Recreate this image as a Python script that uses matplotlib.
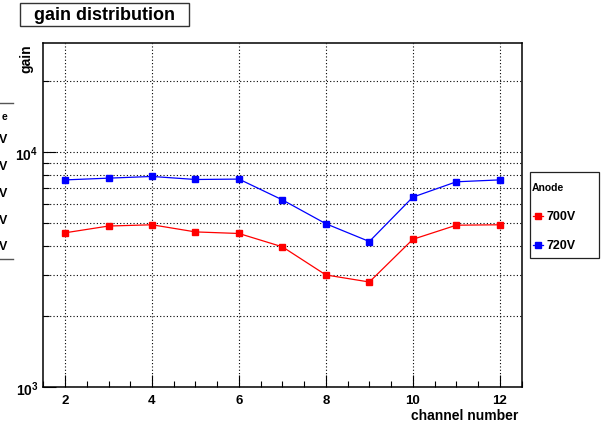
import matplotlib
matplotlib.use("Agg")
import math
import matplotlib.pyplot as plt
from matplotlib.patches import Rectangle
from matplotlib.lines import Line2D
from matplotlib.ticker import LogLocator, MultipleLocator, FuncFormatter, NullFormatter

plt.rcParams['font.family'] = ['Liberation Sans', 'DejaVu Sans']
plt.rcParams['font.weight'] = 'bold'
plt.rcParams['mathtext.fontset'] = 'custom'
plt.rcParams['mathtext.rm'] = 'Liberation Sans:bold'
plt.rcParams['mathtext.bf'] = 'Liberation Sans:bold'
plt.rcParams['mathtext.it'] = 'Liberation Sans:bold'

# ---- data ----
channels = [2, 3, 4, 5, 6, 7, 8, 9, 10, 11, 12]
gain_700V = [4530, 4840, 4900, 4570, 4500, 3950, 3000, 2800, 4250, 4880, 4900]
gain_720V = [7600, 7730, 7860, 7630, 7660, 6250, 4950, 4160, 6420, 7460, 7600]
series_labels = ["700V", "720V"]
series_colors = ["#ff0000", "#0000ff"]
legend_header = "Anode"
# visible (clipped) remainder of a second legend at the left edge
hidden_legend_chars = ["e", "V", "V", "V", "V", "V"]
title_text = "gain distribution"
xlabel_text = "channel number"
ylabel_text = "gain"

W, H = 604, 427
fig = plt.figure(figsize=(W / 100, H / 100), dpi=100)

def fx(px):
    return px / W

def fy(py):
    return 1 - py / H

left, right, top, bottom = 43.3, 521.5, 44.3, 388.3
ax = fig.add_axes([fx(left), fy(bottom), fx(right) - fx(left), fy(top) - fy(bottom)])

ax.set_yscale('log')
ax.set_xlim(1.5, 12.5)
ax.set_ylim(1000, 28900)

for vals, col in zip([gain_700V, gain_720V], series_colors):
    ax.plot(channels, vals, color=col, lw=0.9, marker='s', ms=5, mec=col, mfc=col, zorder=3)

# ticks
ax.xaxis.set_major_locator(MultipleLocator(2))
ax.xaxis.set_minor_locator(MultipleLocator(0.5))
ax.yaxis.set_major_locator(LogLocator(base=10, numticks=10))
ax.yaxis.set_minor_locator(LogLocator(base=10, subs=range(2, 10), numticks=20))
ax.yaxis.set_minor_formatter(NullFormatter())

def yfmt(v, pos):
    e = int(round(math.log10(v)))
    return r"$10^{%d}$" % e
ax.yaxis.set_major_formatter(FuncFormatter(yfmt))

ax.tick_params(axis='both', which='both', direction='in', top=False, right=False, color='black')
ax.tick_params(axis='x', which='major', length=8.5, width=0.8, labelsize=9.5, pad=4.5)
ax.tick_params(axis='x', which='minor', length=4, width=0.8)
ax.tick_params(axis='y', which='major', length=9, width=0.8, labelsize=10, pad=3.5)
ax.tick_params(axis='y', which='minor', length=4.5, width=0.8)
for lab in ax.get_xticklabels() + ax.get_yticklabels():
    lab.set_fontweight('bold')

ax.grid(True, which='major', axis='x', color='black', linestyle=(0, (1, 2)), lw=0.8)
ax.grid(True, which='both', axis='y', color='black', linestyle=(0, (1, 2)), lw=0.8)

for s in ax.spines.values():
    s.set_linewidth(1.1)
    s.set_color('black')

# axis titles
fig.text(fx(518), fy(416.5), xlabel_text, ha='right', va='center', fontsize=10, fontweight='bold')
fig.text(fx(26.5), fy(44), ylabel_text, ha='center', va='top', rotation=90, fontsize=10, fontweight='bold')

# title box
fig.patches.append(Rectangle((fx(19.5), fy(27)), fx(189) - fx(19.5), fy(4) - fy(27),
                             transform=fig.transFigure, facecolor='white', edgecolor='#333333', lw=1.0))
fig.text(fx(104), fy(15.5), title_text, ha='center', va='center', fontsize=13, fontweight='bold')

# legend on the right
fig.patches.append(Rectangle((fx(530), fy(259.3)), fx(599) - fx(530), fy(173.3) - fy(259.3),
                             transform=fig.transFigure, facecolor='white', edgecolor='#222222', lw=0.9))
fig.text(fx(531.5), fy(188), legend_header, ha='left', va='center', fontsize=7.5, fontweight='bold')
for lab, col, yy in zip(series_labels, series_colors, [217, 246]):
    fig.lines.append(Line2D([fx(533.3), fx(543.3)], [fy(yy), fy(yy)], transform=fig.transFigure,
                            color=col, lw=0.9))
    fig.lines.append(Line2D([fx(538.3)], [fy(yy)], transform=fig.transFigure, color=col,
                            marker='s', ms=5, mfc=col, mec=col, lw=0))
    fig.text(fx(546.5), fy(yy), lab, ha='left', va='center', fontsize=9, fontweight='bold')

# clipped legend remainder at the far left edge
fig.lines.append(Line2D([0, fx(13)], [fy(104), fy(104)], transform=fig.transFigure, color='#555555', lw=1.0))
fig.lines.append(Line2D([0, fx(13)], [fy(259.7), fy(259.7)], transform=fig.transFigure, color='#555555', lw=1.0))
for ch, yy in zip(hidden_legend_chars, [117.5, 140, 166.5, 194, 221, 247.5]):
    fig.text(fx(7.5 if ch == "V" else 7), fy(yy), ch, ha='right', va='center',
             fontsize=9 if ch == "V" else 7.5, fontweight='bold')

fig.savefig("out.png", dpi=100)
